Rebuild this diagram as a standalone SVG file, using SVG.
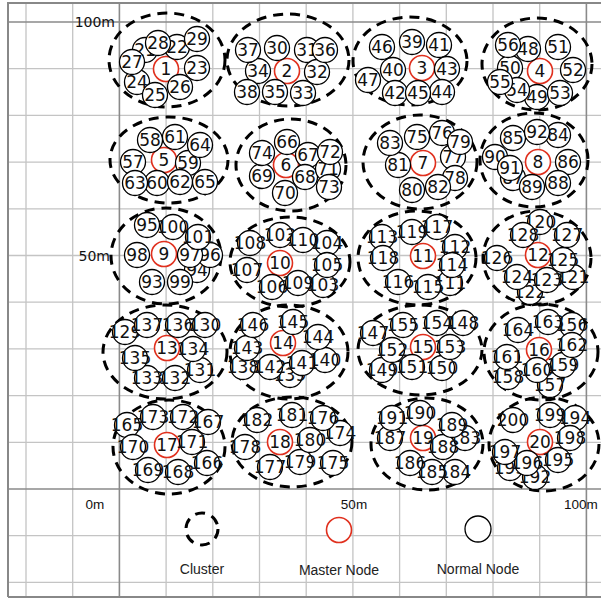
<svg xmlns="http://www.w3.org/2000/svg" width="601" height="599" viewBox="0 0 601 599">
<style>
.g{stroke:#c4c4c4;stroke-width:1.3;fill:none}
.ax{stroke:#8a8a8a;stroke-width:1.6;fill:none}
.cl{fill:none;stroke:#000;stroke-width:3;stroke-dasharray:10 7}
.n circle{fill:#fff;stroke:#000;stroke-width:1.3}
.m circle{fill:#fff;stroke:#e0301e;stroke-width:1.6}
.n text,.m text{font-family:"DejaVu Sans",sans-serif;font-size:17px;text-anchor:middle;fill:#111}
.lab{font-family:"DejaVu Sans",sans-serif;font-size:14px;fill:#111}
.leg{font-family:"Liberation Sans",Arial,sans-serif;font-size:14px;fill:#222;text-anchor:middle}
.axl{font-family:"Liberation Sans",Arial,sans-serif;font-size:13.5px;fill:#111}
</style>
<rect width="601" height="599" fill="#fff"/>
<g id="grid">
<path class="g" d="M26 3V597M72.7 3V597M166.1 3V597M212.8 3V597M259.5 3V597M306.2 3V597M352.9 3V597M399.6 3V597M446.3 3V597M493 3V597M539.7 3V597M8 68.7H601M8 115.4H601M8 162.1H601M8 208.8H601M8 255.5H601M8 302.2H601M8 348.9H601M8 395.6H601M8 442.3H601M8 535.7H601M8 582.4H601"/>
<path class="ax" d="M119.4 3V597M586.4 3V597M8 22H601M8 489H601"/>
<path d="M8 597V3H601M8 597H601" fill="none" stroke="#888" stroke-width="2"/>
</g>
<g id="axis-labels">
<text class="lab" x="115" y="27" text-anchor="end">100m</text>
<text class="lab" x="110" y="261" text-anchor="end">50m</text>
<text class="axl" x="95" y="509" text-anchor="middle">0m</text>
<text class="axl" x="354" y="509" text-anchor="middle">50m</text>
<text class="axl" x="564" y="509">100m</text>
</g>
<g id="clusters">
<ellipse id="cluster-1" class="cl" cx="167" cy="60" rx="58" ry="47"/>
<ellipse id="cluster-2" class="cl" cx="288" cy="60" rx="61" ry="46"/>
<ellipse id="cluster-3" class="cl" cx="410" cy="61" rx="57" ry="44"/>
<ellipse id="cluster-4" class="cl" cx="537" cy="64" rx="55" ry="46"/>
<ellipse id="cluster-5" class="cl" cx="169" cy="160" rx="59" ry="43"/>
<ellipse id="cluster-6" class="cl" cx="291" cy="165" rx="55" ry="46"/>
<ellipse id="cluster-7" class="cl" cx="420" cy="162" rx="57" ry="47"/>
<ellipse id="cluster-8" class="cl" cx="534" cy="160" rx="54" ry="47"/>
<ellipse id="cluster-9" class="cl" cx="166" cy="256" rx="55" ry="48"/>
<ellipse id="cluster-10" class="cl" cx="290" cy="262" rx="60" ry="45"/>
<ellipse id="cluster-11" class="cl" cx="417" cy="258" rx="59" ry="47"/>
<ellipse id="cluster-12" class="cl" cx="537" cy="258" rx="54" ry="47"/>
<ellipse id="cluster-13" class="cl" cx="165" cy="352" rx="62" ry="47"/>
<ellipse id="cluster-14" class="cl" cx="289" cy="352" rx="59" ry="47"/>
<ellipse id="cluster-15" class="cl" cx="420" cy="350" rx="62" ry="45"/>
<ellipse id="cluster-16" class="cl" cx="541" cy="352" rx="57" ry="48"/>
<ellipse id="cluster-17" class="cl" cx="169" cy="447" rx="56" ry="47"/>
<ellipse id="cluster-18" class="cl" cx="292" cy="442" rx="60" ry="45"/>
<ellipse id="cluster-19" class="cl" cx="427" cy="444" rx="56" ry="46"/>
<ellipse id="cluster-20" class="cl" cx="544" cy="444" rx="55" ry="47"/>
</g>
<g id="connectors"/>
<g id="nodes">
<g id="node-1" class="m"><circle cx="166" cy="69" r="12.5"/><text x="166" y="75">1</text></g>
<g id="node-2" class="m"><circle cx="287" cy="71" r="12.5"/><text x="287" y="77">2</text></g>
<g id="node-3" class="m"><circle cx="422" cy="68" r="12.5"/><text x="422" y="74">3</text></g>
<g id="node-4" class="m"><circle cx="540" cy="71" r="12.5"/><text x="540" y="77">4</text></g>
<g id="node-5" class="m"><circle cx="164" cy="160" r="12.5"/><text x="164" y="166">5</text></g>
<g id="node-6" class="m"><circle cx="286" cy="165" r="12.5"/><text x="286" y="171">6</text></g>
<g id="node-7" class="m"><circle cx="423" cy="163" r="12.5"/><text x="423" y="169">7</text></g>
<g id="node-8" class="m"><circle cx="538" cy="162" r="12.5"/><text x="538" y="168">8</text></g>
<g id="node-9" class="m"><circle cx="164" cy="254" r="12.5"/><text x="164" y="260">9</text></g>
<g id="node-10" class="m"><circle cx="280" cy="263" r="12.5"/><text x="280" y="269">10</text></g>
<g id="node-11" class="m"><circle cx="423" cy="256" r="12.5"/><text x="423" y="262">11</text></g>
<g id="node-12" class="m"><circle cx="538" cy="255" r="12.5"/><text x="538" y="261">12</text></g>
<g id="node-13" class="m"><circle cx="167" cy="348" r="12.5"/><text x="167" y="354">13</text></g>
<g id="node-14" class="m"><circle cx="283" cy="343" r="12.5"/><text x="283" y="349">14</text></g>
<g id="node-15" class="m"><circle cx="423" cy="347" r="12.5"/><text x="423" y="353">15</text></g>
<g id="node-16" class="m"><circle cx="539" cy="350" r="12.5"/><text x="539" y="356">16</text></g>
<g id="node-17" class="m"><circle cx="167" cy="445" r="12.5"/><text x="167" y="451">17</text></g>
<g id="node-18" class="m"><circle cx="280" cy="442" r="12.5"/><text x="280" y="448">18</text></g>
<g id="node-19" class="m"><circle cx="423" cy="438" r="12.5"/><text x="423" y="444">19</text></g>
<g id="node-20" class="m"><circle cx="540" cy="442" r="12.5"/><text x="540" y="448">20</text></g>
<g id="node-21" class="n"><circle cx="145" cy="50" r="12.5"/><text x="145" y="56">21</text></g>
<g id="node-22" class="n"><circle cx="177" cy="47" r="12.5"/><text x="177" y="53">22</text></g>
<g id="node-23" class="n"><circle cx="197" cy="68" r="12.5"/><text x="197" y="74">23</text></g>
<g id="node-24" class="n"><circle cx="137" cy="82" r="12.5"/><text x="137" y="88">24</text></g>
<g id="node-25" class="n"><circle cx="155" cy="95" r="12.5"/><text x="155" y="101">25</text></g>
<g id="node-26" class="n"><circle cx="180" cy="87" r="12.5"/><text x="180" y="93">26</text></g>
<g id="node-27" class="n"><circle cx="132" cy="62" r="12.5"/><text x="132" y="68">27</text></g>
<g id="node-28" class="n"><circle cx="158" cy="43" r="12.5"/><text x="158" y="49">28</text></g>
<g id="node-29" class="n"><circle cx="197" cy="39" r="12.5"/><text x="197" y="45">29</text></g>
<g id="node-30" class="n"><circle cx="277" cy="48" r="12.5"/><text x="277" y="54">30</text></g>
<g id="node-31" class="n"><circle cx="307" cy="50" r="12.5"/><text x="307" y="56">31</text></g>
<g id="node-32" class="n"><circle cx="317" cy="72" r="12.5"/><text x="317" y="78">32</text></g>
<g id="node-33" class="n"><circle cx="303" cy="93" r="12.5"/><text x="303" y="99">33</text></g>
<g id="node-34" class="n"><circle cx="258" cy="71" r="12.5"/><text x="258" y="77">34</text></g>
<g id="node-35" class="n"><circle cx="275" cy="92" r="12.5"/><text x="275" y="98">35</text></g>
<g id="node-36" class="n"><circle cx="325" cy="50" r="12.5"/><text x="325" y="56">36</text></g>
<g id="node-37" class="n"><circle cx="248" cy="50" r="12.5"/><text x="248" y="56">37</text></g>
<g id="node-38" class="n"><circle cx="247" cy="92" r="12.5"/><text x="247" y="98">38</text></g>
<g id="node-39" class="n"><circle cx="412" cy="42" r="12.5"/><text x="412" y="48">39</text></g>
<g id="node-40" class="n"><circle cx="393" cy="70" r="12.5"/><text x="393" y="76">40</text></g>
<g id="node-41" class="n"><circle cx="439" cy="45" r="12.5"/><text x="439" y="51">41</text></g>
<g id="node-42" class="n"><circle cx="395" cy="93" r="12.5"/><text x="395" y="99">42</text></g>
<g id="node-43" class="n"><circle cx="447" cy="69" r="12.5"/><text x="447" y="75">43</text></g>
<g id="node-44" class="n"><circle cx="442" cy="92" r="12.5"/><text x="442" y="98">44</text></g>
<g id="node-45" class="n"><circle cx="418" cy="93" r="12.5"/><text x="418" y="99">45</text></g>
<g id="node-46" class="n"><circle cx="382" cy="47" r="12.5"/><text x="382" y="53">46</text></g>
<g id="node-47" class="n"><circle cx="368" cy="80" r="12.5"/><text x="368" y="86">47</text></g>
<g id="node-48" class="n"><circle cx="528" cy="49" r="12.5"/><text x="528" y="55">48</text></g>
<g id="node-49" class="n"><circle cx="537" cy="97" r="12.5"/><text x="537" y="103">49</text></g>
<g id="node-50" class="n"><circle cx="510" cy="68" r="12.5"/><text x="510" y="74">50</text></g>
<g id="node-51" class="n"><circle cx="558" cy="47" r="12.5"/><text x="558" y="53">51</text></g>
<g id="node-52" class="n"><circle cx="573" cy="70" r="12.5"/><text x="573" y="76">52</text></g>
<g id="node-53" class="n"><circle cx="560" cy="93" r="12.5"/><text x="560" y="99">53</text></g>
<g id="node-54" class="n"><circle cx="517" cy="90" r="12.5"/><text x="517" y="96">54</text></g>
<g id="node-55" class="n"><circle cx="500" cy="82" r="12.5"/><text x="500" y="88">55</text></g>
<g id="node-56" class="n"><circle cx="508" cy="45" r="12.5"/><text x="508" y="51">56</text></g>
<g id="node-57" class="n"><circle cx="133" cy="162" r="12.5"/><text x="133" y="168">57</text></g>
<g id="node-58" class="n"><circle cx="150" cy="140" r="12.5"/><text x="150" y="146">58</text></g>
<g id="node-59" class="n"><circle cx="188" cy="163" r="12.5"/><text x="188" y="169">59</text></g>
<g id="node-60" class="n"><circle cx="157" cy="183" r="12.5"/><text x="157" y="189">60</text></g>
<g id="node-61" class="n"><circle cx="175" cy="137" r="12.5"/><text x="175" y="143">61</text></g>
<g id="node-62" class="n"><circle cx="180" cy="182" r="12.5"/><text x="180" y="188">62</text></g>
<g id="node-63" class="n"><circle cx="135" cy="183" r="12.5"/><text x="135" y="189">63</text></g>
<g id="node-64" class="n"><circle cx="200" cy="145" r="12.5"/><text x="200" y="151">64</text></g>
<g id="node-65" class="n"><circle cx="205" cy="182" r="12.5"/><text x="205" y="188">65</text></g>
<g id="node-66" class="n"><circle cx="287" cy="142" r="12.5"/><text x="287" y="148">66</text></g>
<g id="node-67" class="n"><circle cx="308" cy="155" r="12.5"/><text x="308" y="161">67</text></g>
<g id="node-68" class="n"><circle cx="305" cy="177" r="12.5"/><text x="305" y="183">68</text></g>
<g id="node-69" class="n"><circle cx="262" cy="176" r="12.5"/><text x="262" y="182">69</text></g>
<g id="node-70" class="n"><circle cx="285" cy="193" r="12.5"/><text x="285" y="199">70</text></g>
<g id="node-71" class="n"><circle cx="328" cy="169" r="12.5"/><text x="328" y="175">71</text></g>
<g id="node-72" class="n"><circle cx="330" cy="152" r="12.5"/><text x="330" y="158">72</text></g>
<g id="node-73" class="n"><circle cx="329" cy="187" r="12.5"/><text x="329" y="193">73</text></g>
<g id="node-74" class="n"><circle cx="262" cy="153" r="12.5"/><text x="262" y="159">74</text></g>
<g id="node-75" class="n"><circle cx="417" cy="137" r="12.5"/><text x="417" y="143">75</text></g>
<g id="node-76" class="n"><circle cx="442" cy="133" r="12.5"/><text x="442" y="139">76</text></g>
<g id="node-77" class="n"><circle cx="453" cy="157" r="12.5"/><text x="453" y="163">77</text></g>
<g id="node-78" class="n"><circle cx="455" cy="178" r="12.5"/><text x="455" y="184">78</text></g>
<g id="node-79" class="n"><circle cx="460" cy="142" r="12.5"/><text x="460" y="148">79</text></g>
<g id="node-80" class="n"><circle cx="412" cy="190" r="12.5"/><text x="412" y="196">80</text></g>
<g id="node-81" class="n"><circle cx="398" cy="165" r="12.5"/><text x="398" y="171">81</text></g>
<g id="node-82" class="n"><circle cx="438" cy="187" r="12.5"/><text x="438" y="193">82</text></g>
<g id="node-83" class="n"><circle cx="390" cy="143" r="12.5"/><text x="390" y="149">83</text></g>
<g id="node-84" class="n"><circle cx="558" cy="135" r="12.5"/><text x="558" y="141">84</text></g>
<g id="node-85" class="n"><circle cx="513" cy="138" r="12.5"/><text x="513" y="144">85</text></g>
<g id="node-86" class="n"><circle cx="568" cy="162" r="12.5"/><text x="568" y="168">86</text></g>
<g id="node-87" class="n"><circle cx="513" cy="178" r="12.5"/><text x="513" y="184">87</text></g>
<g id="node-88" class="n"><circle cx="558" cy="183" r="12.5"/><text x="558" y="189">88</text></g>
<g id="node-89" class="n"><circle cx="532" cy="187" r="12.5"/><text x="532" y="193">89</text></g>
<g id="node-90" class="n"><circle cx="495" cy="157" r="12.5"/><text x="495" y="163">90</text></g>
<g id="node-91" class="n"><circle cx="510" cy="168" r="12.5"/><text x="510" y="174">91</text></g>
<g id="node-92" class="n"><circle cx="537" cy="132" r="12.5"/><text x="537" y="138">92</text></g>
<g id="node-93" class="n"><circle cx="152" cy="282" r="12.5"/><text x="152" y="288">93</text></g>
<g id="node-94" class="n"><circle cx="197" cy="270" r="12.5"/><text x="197" y="276">94</text></g>
<g id="node-95" class="n"><circle cx="147" cy="225" r="12.5"/><text x="147" y="231">95</text></g>
<g id="node-96" class="n"><circle cx="210" cy="255" r="12.5"/><text x="210" y="261">96</text></g>
<g id="node-97" class="n"><circle cx="190" cy="255" r="12.5"/><text x="190" y="261">97</text></g>
<g id="node-98" class="n"><circle cx="137" cy="255" r="12.5"/><text x="137" y="261">98</text></g>
<g id="node-99" class="n"><circle cx="180" cy="282" r="12.5"/><text x="180" y="288">99</text></g>
<g id="node-100" class="n"><circle cx="173" cy="227" r="12.5"/><text x="173" y="233">100</text></g>
<g id="node-101" class="n"><circle cx="198" cy="237" r="12.5"/><text x="198" y="243">101</text></g>
<g id="node-102" class="n"><circle cx="280" cy="235" r="12.5"/><text x="280" y="241">102</text></g>
<g id="node-103" class="n"><circle cx="323" cy="285" r="12.5"/><text x="323" y="291">103</text></g>
<g id="node-104" class="n"><circle cx="327" cy="243" r="12.5"/><text x="327" y="249">104</text></g>
<g id="node-105" class="n"><circle cx="327" cy="265" r="12.5"/><text x="327" y="271">105</text></g>
<g id="node-106" class="n"><circle cx="272" cy="287" r="12.5"/><text x="272" y="293">106</text></g>
<g id="node-107" class="n"><circle cx="247" cy="270" r="12.5"/><text x="247" y="276">107</text></g>
<g id="node-108" class="n"><circle cx="250" cy="243" r="12.5"/><text x="250" y="249">108</text></g>
<g id="node-109" class="n"><circle cx="298" cy="283" r="12.5"/><text x="298" y="289">109</text></g>
<g id="node-110" class="n"><circle cx="303" cy="240" r="12.5"/><text x="303" y="246">110</text></g>
<g id="node-111" class="n"><circle cx="450" cy="283" r="12.5"/><text x="450" y="289">111</text></g>
<g id="node-112" class="n"><circle cx="455" cy="247" r="12.5"/><text x="455" y="253">112</text></g>
<g id="node-113" class="n"><circle cx="382" cy="237" r="12.5"/><text x="382" y="243">113</text></g>
<g id="node-114" class="n"><circle cx="452" cy="265" r="12.5"/><text x="452" y="271">114</text></g>
<g id="node-115" class="n"><circle cx="428" cy="287" r="12.5"/><text x="428" y="293">115</text></g>
<g id="node-116" class="n"><circle cx="398" cy="282" r="12.5"/><text x="398" y="288">116</text></g>
<g id="node-117" class="n"><circle cx="437" cy="227" r="12.5"/><text x="437" y="233">117</text></g>
<g id="node-118" class="n"><circle cx="383" cy="258" r="12.5"/><text x="383" y="264">118</text></g>
<g id="node-119" class="n"><circle cx="412" cy="232" r="12.5"/><text x="412" y="238">119</text></g>
<g id="node-120" class="n"><circle cx="540" cy="222" r="12.5"/><text x="540" y="228">120</text></g>
<g id="node-121" class="n"><circle cx="573" cy="277" r="12.5"/><text x="573" y="283">121</text></g>
<g id="node-122" class="n"><circle cx="530" cy="292" r="12.5"/><text x="530" y="298">122</text></g>
<g id="node-123" class="n"><circle cx="547" cy="280" r="12.5"/><text x="547" y="286">123</text></g>
<g id="node-124" class="n"><circle cx="517" cy="277" r="12.5"/><text x="517" y="283">124</text></g>
<g id="node-125" class="n"><circle cx="563" cy="260" r="12.5"/><text x="563" y="266">125</text></g>
<g id="node-126" class="n"><circle cx="497" cy="258" r="12.5"/><text x="497" y="264">126</text></g>
<g id="node-127" class="n"><circle cx="567" cy="235" r="12.5"/><text x="567" y="241">127</text></g>
<g id="node-128" class="n"><circle cx="523" cy="235" r="12.5"/><text x="523" y="241">128</text></g>
<g id="node-129" class="n"><circle cx="125" cy="332" r="12.5"/><text x="125" y="338">129</text></g>
<g id="node-130" class="n"><circle cx="205" cy="325" r="12.5"/><text x="205" y="331">130</text></g>
<g id="node-131" class="n"><circle cx="200" cy="370" r="12.5"/><text x="200" y="376">131</text></g>
<g id="node-132" class="n"><circle cx="175" cy="378" r="12.5"/><text x="175" y="384">132</text></g>
<g id="node-133" class="n"><circle cx="147" cy="378" r="12.5"/><text x="147" y="384">133</text></g>
<g id="node-134" class="n"><circle cx="193" cy="349" r="12.5"/><text x="193" y="355">134</text></g>
<g id="node-135" class="n"><circle cx="135" cy="358" r="12.5"/><text x="135" y="364">135</text></g>
<g id="node-136" class="n"><circle cx="178" cy="325" r="12.5"/><text x="178" y="331">136</text></g>
<g id="node-137" class="n"><circle cx="147" cy="325" r="12.5"/><text x="147" y="331">137</text></g>
<g id="node-138" class="n"><circle cx="243" cy="367" r="12.5"/><text x="243" y="373">138</text></g>
<g id="node-139" class="n"><circle cx="290" cy="375" r="12.5"/><text x="290" y="381">139</text></g>
<g id="node-140" class="n"><circle cx="325" cy="360" r="12.5"/><text x="325" y="366">140</text></g>
<g id="node-141" class="n"><circle cx="302" cy="363" r="12.5"/><text x="302" y="369">141</text></g>
<g id="node-142" class="n"><circle cx="270" cy="367" r="12.5"/><text x="270" y="373">142</text></g>
<g id="node-143" class="n"><circle cx="247" cy="348" r="12.5"/><text x="247" y="354">143</text></g>
<g id="node-144" class="n"><circle cx="318" cy="337" r="12.5"/><text x="318" y="343">144</text></g>
<g id="node-145" class="n"><circle cx="293" cy="322" r="12.5"/><text x="293" y="328">145</text></g>
<g id="node-146" class="n"><circle cx="253" cy="325" r="12.5"/><text x="253" y="331">146</text></g>
<g id="node-147" class="n"><circle cx="373" cy="333" r="12.5"/><text x="373" y="339">147</text></g>
<g id="node-148" class="n"><circle cx="463" cy="323" r="12.5"/><text x="463" y="329">148</text></g>
<g id="node-149" class="n"><circle cx="382" cy="370" r="12.5"/><text x="382" y="376">149</text></g>
<g id="node-150" class="n"><circle cx="442" cy="368" r="12.5"/><text x="442" y="374">150</text></g>
<g id="node-151" class="n"><circle cx="412" cy="367" r="12.5"/><text x="412" y="373">151</text></g>
<g id="node-152" class="n"><circle cx="392" cy="350" r="12.5"/><text x="392" y="356">152</text></g>
<g id="node-153" class="n"><circle cx="450" cy="347" r="12.5"/><text x="450" y="353">153</text></g>
<g id="node-154" class="n"><circle cx="437" cy="323" r="12.5"/><text x="437" y="329">154</text></g>
<g id="node-155" class="n"><circle cx="403" cy="325" r="12.5"/><text x="403" y="331">155</text></g>
<g id="node-156" class="n"><circle cx="572" cy="325" r="12.5"/><text x="572" y="331">156</text></g>
<g id="node-157" class="n"><circle cx="550" cy="385" r="12.5"/><text x="550" y="391">157</text></g>
<g id="node-158" class="n"><circle cx="508" cy="377" r="12.5"/><text x="508" y="383">158</text></g>
<g id="node-159" class="n"><circle cx="563" cy="365" r="12.5"/><text x="563" y="371">159</text></g>
<g id="node-160" class="n"><circle cx="537" cy="370" r="12.5"/><text x="537" y="376">160</text></g>
<g id="node-161" class="n"><circle cx="507" cy="357" r="12.5"/><text x="507" y="363">161</text></g>
<g id="node-162" class="n"><circle cx="572" cy="345" r="12.5"/><text x="572" y="351">162</text></g>
<g id="node-163" class="n"><circle cx="548" cy="322" r="12.5"/><text x="548" y="328">163</text></g>
<g id="node-164" class="n"><circle cx="518" cy="330" r="12.5"/><text x="518" y="336">164</text></g>
<g id="node-165" class="n"><circle cx="127" cy="425" r="12.5"/><text x="127" y="431">165</text></g>
<g id="node-166" class="n"><circle cx="207" cy="463" r="12.5"/><text x="207" y="469">166</text></g>
<g id="node-167" class="n"><circle cx="208" cy="422" r="12.5"/><text x="208" y="428">167</text></g>
<g id="node-168" class="n"><circle cx="178" cy="472" r="12.5"/><text x="178" y="478">168</text></g>
<g id="node-169" class="n"><circle cx="148" cy="470" r="12.5"/><text x="148" y="476">169</text></g>
<g id="node-170" class="n"><circle cx="133" cy="447" r="12.5"/><text x="133" y="453">170</text></g>
<g id="node-171" class="n"><circle cx="192" cy="442" r="12.5"/><text x="192" y="448">171</text></g>
<g id="node-172" class="n"><circle cx="183" cy="417" r="12.5"/><text x="183" y="423">172</text></g>
<g id="node-173" class="n"><circle cx="153" cy="417" r="12.5"/><text x="153" y="423">173</text></g>
<g id="node-174" class="n"><circle cx="340" cy="433" r="12.5"/><text x="340" y="439">174</text></g>
<g id="node-175" class="n"><circle cx="333" cy="463" r="12.5"/><text x="333" y="469">175</text></g>
<g id="node-176" class="n"><circle cx="323" cy="418" r="12.5"/><text x="323" y="424">176</text></g>
<g id="node-177" class="n"><circle cx="270" cy="467" r="12.5"/><text x="270" y="473">177</text></g>
<g id="node-178" class="n"><circle cx="245" cy="447" r="12.5"/><text x="245" y="453">178</text></g>
<g id="node-179" class="n"><circle cx="300" cy="462" r="12.5"/><text x="300" y="468">179</text></g>
<g id="node-180" class="n"><circle cx="310" cy="440" r="12.5"/><text x="310" y="446">180</text></g>
<g id="node-181" class="n"><circle cx="292" cy="415" r="12.5"/><text x="292" y="421">181</text></g>
<g id="node-182" class="n"><circle cx="257" cy="420" r="12.5"/><text x="257" y="426">182</text></g>
<g id="node-183" class="n"><circle cx="465" cy="438" r="12.5"/><text x="465" y="444">183</text></g>
<g id="node-184" class="n"><circle cx="455" cy="472" r="12.5"/><text x="455" y="478">184</text></g>
<g id="node-185" class="n"><circle cx="432" cy="472" r="12.5"/><text x="432" y="478">185</text></g>
<g id="node-186" class="n"><circle cx="410" cy="463" r="12.5"/><text x="410" y="469">186</text></g>
<g id="node-187" class="n"><circle cx="390" cy="438" r="12.5"/><text x="390" y="444">187</text></g>
<g id="node-188" class="n"><circle cx="443" cy="447" r="12.5"/><text x="443" y="453">188</text></g>
<g id="node-189" class="n"><circle cx="452" cy="425" r="12.5"/><text x="452" y="431">189</text></g>
<g id="node-190" class="n"><circle cx="420" cy="413" r="12.5"/><text x="420" y="419">190</text></g>
<g id="node-191" class="n"><circle cx="392" cy="418" r="12.5"/><text x="392" y="424">191</text></g>
<g id="node-192" class="n"><circle cx="535" cy="477" r="12.5"/><text x="535" y="483">192</text></g>
<g id="node-193" class="n"><circle cx="510" cy="468" r="12.5"/><text x="510" y="474">193</text></g>
<g id="node-194" class="n"><circle cx="575" cy="418" r="12.5"/><text x="575" y="424">194</text></g>
<g id="node-195" class="n"><circle cx="558" cy="460" r="12.5"/><text x="558" y="466">195</text></g>
<g id="node-196" class="n"><circle cx="527" cy="463" r="12.5"/><text x="527" y="469">196</text></g>
<g id="node-197" class="n"><circle cx="505" cy="452" r="12.5"/><text x="505" y="458">197</text></g>
<g id="node-198" class="n"><circle cx="570" cy="438" r="12.5"/><text x="570" y="444">198</text></g>
<g id="node-199" class="n"><circle cx="550" cy="415" r="12.5"/><text x="550" y="421">199</text></g>
<g id="node-200" class="n"><circle cx="513" cy="420" r="12.5"/><text x="513" y="426">200</text></g>
</g>
<g id="legend">
<circle cx="202" cy="529" r="16" class="cl"/>
<g class="m"><circle cx="339" cy="530" r="12.5"/></g>
<g class="n"><circle cx="478" cy="529" r="13"/></g>
<text class="leg" x="202" y="574">Cluster</text>
<text class="leg" x="339" y="575">Master Node</text>
<text class="leg" x="478" y="574">Normal Node</text>
</g>
</svg>
